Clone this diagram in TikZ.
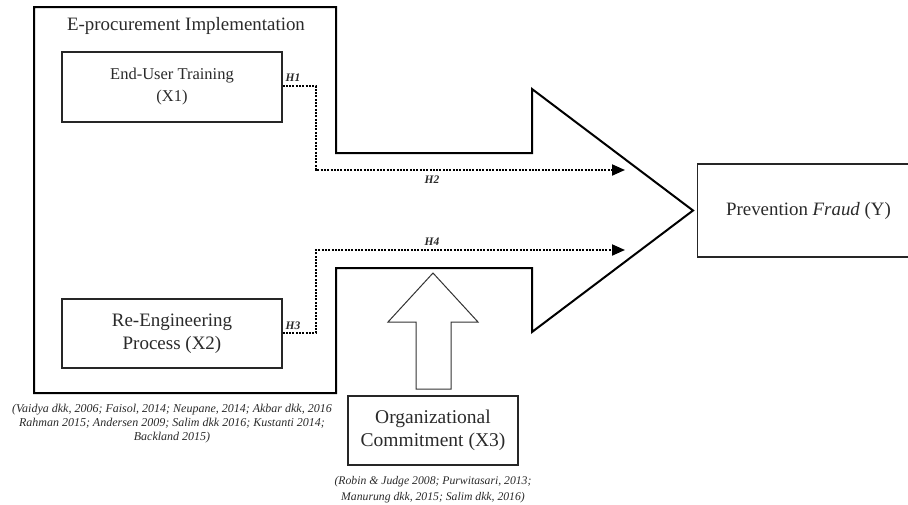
\documentclass[tikz,border=0pt]{standalone}
\usepackage{fontspec}
\setmainfont{Liberation Serif}
\usetikzlibrary{arrows.meta}
\definecolor{txt}{HTML}{2A2A2A}
\tikzset{
  box/.style={draw=black!85, line width=1.1pt, inner sep=0pt, text=txt, align=center},
  outline/.style={draw=black, line width=2pt, line join=miter},
  dotline/.style={draw=black, line width=2pt, dash pattern=on 2pt off 1.3pt, -{Triangle[length=13pt,width=11pt]}},
  hlab/.style={font=\fontsize{11.5}{13}\selectfont\bfseries\itshape, text=txt, inner sep=0pt},
  cite/.style={text=txt, align=center, inner sep=0pt},
  uparrow/.style={draw=black!80, line width=1pt, fill=white, line join=miter}
}
\begin{document}
\begin{tikzpicture}[x=1pt,y=-1pt]
\useasboundingbox (0,0) rectangle (908,504);
% big outline: e-procurement frame + arrow
\draw[outline] (34,7) -- (336,7) -- (336,153) -- (532,153) -- (532,89) -- (693,210.5)
  -- (532,332) -- (532,268) -- (336,268) -- (336,393) -- (34,393) -- cycle;
\node[font=\fontsize{18.9}{22}\selectfont, text=txt, inner sep=0pt] (title) at (186,26) {E-procurement Implementation};
% boxes
\node[box, minimum width=220pt, minimum height=70pt, font=\fontsize{16.5}{22}\selectfont] (x1) at (172,87) {End-User Training\\(X1)};
\node[box, minimum width=220pt, minimum height=69pt, font=\fontsize{19}{23}\selectfont] (x2) at (172,333.5) {Re-Engineering\\Process (X2)};
\node[box, minimum width=170pt, minimum height=69pt, font=\fontsize{19.5}{23}\selectfont] (x3) at (433,430.5) {Organizational\\Commitment (X3)};
\node[box, minimum width=222pt, minimum height=93pt, font=\fontsize{18.9}{22}\selectfont] (y) at (808.5,210.5) {Prevention \textit{Fraud} (Y)};
% up arrow
\draw[uparrow] (433,273) -- (478,322) -- (451,322) -- (451,389) -- (416,389) -- (416,322) -- (388,322) -- cycle;
% dotted connectors
\coordinate (h2end) at (625,170);
\coordinate (h4end) at (625,250);
\coordinate (c1) at (316,86);
\coordinate (c3) at (316,333);
\draw[dotline] (x1.east |- c1) -- (c1) |- (h2end);
\draw[dotline] (x2.east |- c3) -- (c3) |- (h4end);
% labels
\node[hlab] (h1) at (293,78) {H1};
\node[hlab] (h2) at (432,180) {H2};
\node[hlab] (h3) at (293,326) {H3};
\node[hlab] (h4) at (432,242) {H4};
% citations
\node[cite, font=\fontsize{12}{14}\selectfont\itshape] (cite1) at (172,423.5) {(Vaidya dkk, 2006; Faisol, 2014; Neupane, 2014; Akbar dkk, 2016\\Rahman 2015; Andersen 2009; Salim dkk 2016; Kustanti 2014;\\Backland 2015)};
\node[cite, font=\fontsize{11.7}{16}\selectfont\itshape] (cite2) at (433,489.5) {(Robin \& Judge 2008; Purwitasari, 2013;\\Manurung dkk, 2015; Salim dkk, 2016)};
\end{tikzpicture}
\end{document}
